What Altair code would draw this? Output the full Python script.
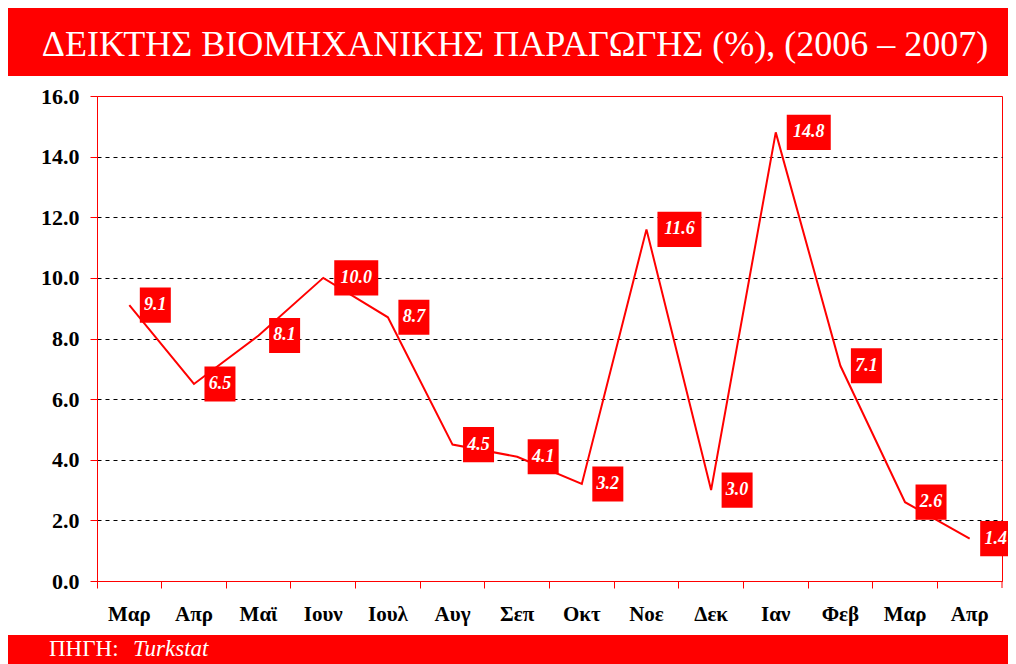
import altair as alt
import pandas as pd

title_text = "ΔΕΙΚΤΗΣ ΒΙΟΜΗΧΑΝΙΚΗΣ ΠΑΡΑΓΩΓΗΣ (%), (2006 – 2007)"
source_prefix = "ΠΗΓΗ:"
source_name = "Turkstat"
months = ["Μαρ", "Απρ", "Μαϊ", "Ιουν", "Ιουλ", "Αυγ", "Σεπ", "Οκτ",
          "Νοε", "Δεκ", "Ιαν", "Φεβ", "Μαρ", "Απρ"]
values = [9.1, 6.5, 8.1, 10.0, 8.7, 4.5, 4.1, 3.2, 11.6, 3.0, 14.8, 7.1, 2.6, 1.4]
y_ticks = [0, 2, 4, 6, 8, 10, 12, 14, 16]

df = pd.DataFrame({
    "idx": list(range(len(months))),
    "month": months,
    "value": values,
    "lbl": [f"{v:.1f}" for v in values],
})

W, H = 905, 485
SERIF = "Liberation Serif"
RED = "#ff0000"

label_js = "[" + ",".join(f"'{m}'" for m in months) + "][datum.value]"

x_enc = alt.X(
    "idx:O",
    scale=alt.Scale(paddingInner=0, paddingOuter=0),
    axis=alt.Axis(
        title=None, labelExpr=label_js, labelAngle=0, bandPosition=0,
        domainColor=RED, tickColor=RED, tickSize=7, labelPadding=15,
        labelFont=SERIF, labelFontSize=21, labelFontWeight="bold",
        labelColor="black", grid=False,
    ),
)
y_scale = alt.Scale(domain=[0, 16], nice=False)
y_enc = alt.Y(
    "value:Q", scale=y_scale,
    axis=alt.Axis(
        title=None, values=y_ticks, format=".1f", domainColor=RED,
        tickColor=RED, tickSize=7, labelPadding=11, labelFont=SERIF,
        labelFontSize=22, labelFontWeight="bold", labelColor="black",
        grid=True, gridColor="black", gridDash=[4, 4], gridWidth=1,
        gridOpacity={"condition": {"test": "datum.value === 0 || datum.value === 16", "value": 0}, "value": 1},
    ),
)

base = alt.Chart(df)
line = base.mark_line(color=RED, strokeWidth=2).encode(x=x_enc, y=y_enc)

boxed = base.transform_calculate(lo="datum.value - 0.58", hi="datum.value + 0.58")
short = boxed.transform_filter("length(datum.lbl) <= 3")
long_ = boxed.transform_filter("length(datum.lbl) > 3")

box_s = short.mark_rect(color=RED, width=31, xOffset=26).encode(
    x="idx:O", y=alt.Y("lo:Q", scale=y_scale), y2="hi:Q")
box_l = long_.mark_rect(color=RED, width=44, xOffset=33).encode(
    x="idx:O", y=alt.Y("lo:Q", scale=y_scale), y2="hi:Q")

txt_style = dict(color="white", font=SERIF, fontSize=18, fontStyle="italic",
                 fontWeight="bold", align="center", baseline="middle")
txt_s = short.mark_text(dx=26, **txt_style).encode(x="idx:O", y=alt.Y("value:Q", scale=y_scale), text="lbl:N")
txt_l = long_.mark_text(dx=33, **txt_style).encode(x="idx:O", y=alt.Y("value:Q", scale=y_scale), text="lbl:N")

one = alt.Chart(pd.DataFrame({"a": [0]}))
top_bar = one.mark_rect(color=RED).encode(
    x=alt.value(-89), x2=alt.value(925), y=alt.value(-88), y2=alt.value(-20))
title = one.mark_text(color="white", font=SERIF, fontSize=36, align="center",
                      baseline="middle").encode(
    x=alt.value(418), y=alt.value(-51), text=alt.value(title_text))
bottom_bar = one.mark_rect(color=RED).encode(
    x=alt.value(-89), x2=alt.value(925), y=alt.value(539), y2=alt.value(572))
src1 = one.mark_text(color="white", font=SERIF, fontSize=23, align="left",
                     baseline="alphabetic").encode(
    x=alt.value(-48), y=alt.value(560), text=alt.value(source_prefix))
src2 = one.mark_text(color="white", font=SERIF, fontSize=23, fontStyle="italic",
                     align="left", baseline="alphabetic").encode(
    x=alt.value(36), y=alt.value(560), text=alt.value(source_name))
right_tick = one.mark_rule(color=RED).encode(
    x=alt.value(W), y=alt.value(H), y2=alt.value(H + 7))

chart = alt.layer(
    top_bar, title, bottom_bar, src1, src2,
    line, box_s, box_l, txt_s, txt_l, right_tick,
).properties(
    width=W, height=H,
    autosize=alt.AutoSizeParams(type="none"),
    padding={"left": 89, "top": 88, "right": 6, "bottom": 83},
    background="white",
).configure_view(stroke=RED, strokeWidth=1)

chart.save("out.html", embed_options={"renderer": "svg", "actions": False})
